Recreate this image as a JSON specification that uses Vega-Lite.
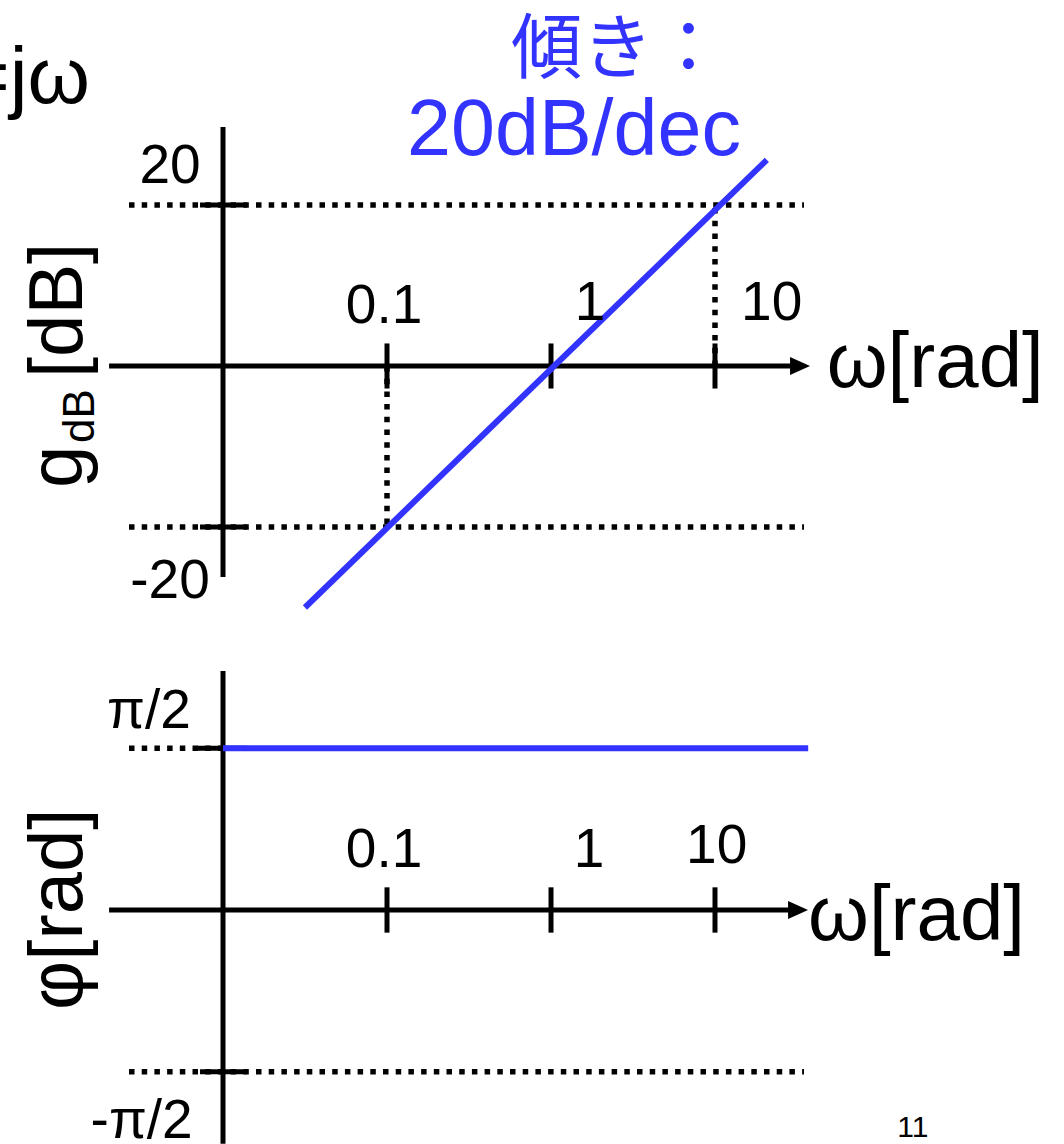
{
  "$schema": "https://vega.github.io/schema/vega-lite/v6.json",
  "width": 1064,
  "height": 1144,
  "autosize": {"type": "fit", "contains": "padding"},
  "padding": 0,
  "background": "white",
  "config": {"view": {"stroke": null}, "text": {"font": "Liberation Sans"}},
  "datasets": {
    "mag_solid": [
      {"w": 0.00202, "w2": 30.7, "g": 0, "g2": 0},
      {"w": 0.01, "w2": 0.01, "g": -26.2, "g2": 29.7},
      {"w": 0.1, "w2": 0.1, "g": -2.8, "g2": 2.8},
      {"w": 1, "w2": 1, "g": -2.8, "g2": 2.8},
      {"w": 10, "w2": 10, "g": -2.8, "g2": 2.8},
      {"w": 0.00724, "w2": 0.01401, "g": 20, "g2": 20},
      {"w": 0.00724, "w2": 0.01401, "g": -20, "g2": -20}
    ],
    "mag_dotted": [
      {"w": 0.002672, "w2": 34.88, "g": 20, "g2": 20},
      {"w": 0.002672, "w2": 34.88, "g": -20, "g2": -20},
      {"w": 0.1, "w2": 0.1, "g": 0, "g2": -20},
      {"w": 10, "w2": 10, "g": 0, "g2": 20}
    ],
    "mag_curve": [
      {"w": 0.0316, "g": -30},
      {"w": 20.7, "g": 25.6}
    ],
    "mag_arrow": [{"w": 33, "g": 0}],
    "mag_ticklabels": [
      {"w": 0.00475, "g": 22.73, "label": "20"},
      {"w": 0.00475, "g": -28.82, "label": "-20"},
      {"w": 0.0959, "g": 5.38, "label": "0.1"},
      {"w": 1.729, "g": 5.71, "label": "1"},
      {"w": 22.17, "g": 5.71, "label": "10"}
    ],
    "mag_axislabel": [{"w": 48.0, "g": -2.57, "label": "ω[rad]"}],
    "mag_slope": [{"w": 1.381, "g": 26.21, "label": "20dB/dec"}],
    "mag_slope_jp": [{"w": 0.5705, "g": 36.5, "label": "傾き："}],
    "mag_corner": [{"w": 0.001545, "g": 32.67, "label": "=jω"}],
    "mag_ylabel_main": [
      {"w": 0.00138, "g": -15.16, "label": "g"},
      {"w": 0.00138, "g": -1.49, "label": "[dB]"}
    ],
    "mag_ylabel_sub": [{"w": 0.001634, "g": -9.57, "label": "dB"}],
    "ph_solid": [
      {"w": 0.00202, "w2": 28.7, "p": 0, "p2": 0},
      {"w": 0.01, "w2": 0.01, "p": -2.27, "p2": 2.32},
      {"w": 0.1, "w2": 0.1, "p": -0.22, "p2": 0.22},
      {"w": 1, "w2": 1, "p": -0.22, "p2": 0.22},
      {"w": 10, "w2": 10, "p": -0.22, "p2": 0.22},
      {"w": 0.00694, "w2": 0.01401, "p": 1.5708, "p2": 1.5708},
      {"w": 0.00724, "w2": 0.01401, "p": -1.5708, "p2": -1.5708}
    ],
    "ph_dotted": [
      {"w": 0.002672, "w2": 0.01, "p": 1.5708, "p2": 1.5708},
      {"w": 0.002672, "w2": 34.88, "p": -1.5708, "p2": -1.5708}
    ],
    "ph_curve": [
      {"w": 0.01, "p": 1.5708},
      {"w": 37, "p": 1.5708}
    ],
    "ph_arrow": [{"w": 32.1, "p": 0}],
    "ph_ticklabels": [
      {"w": 0.003538, "p": 1.764, "label": "π/2"},
      {"w": 0.00319, "p": -2.215, "label": "-π/2"},
      {"w": 0.0959, "p": 0.42, "label": "0.1"},
      {"w": 1.705, "p": 0.42, "label": "1"},
      {"w": 10.24, "p": 0.453, "label": "10"}
    ],
    "ph_axislabel": [{"w": 36.9, "p": -0.291, "label": "ω[rad]"}],
    "ph_ylabel": [{"w": 0.00138, "p": -0.971, "label": "φ[rad]"}],
    "page": [{"w": 161, "p": -2.201, "label": "11"}]
  },
  "resolve": {"scale": {"y": "independent"}},
  "layer": [
    {
      "encoding": {
        "x": {"field": "w", "type": "quantitative", "scale": {"type": "log", "domain": [0.0004367, 1343], "nice": false}, "axis": null},
        "y": {"field": "g", "type": "quantitative", "scale": {"domain": [-96.646, 45.466], "nice": false, "zero": false}, "axis": null}
      },
      "layer": [
        {
          "data": {"name": "mag_dotted"},
          "mark": {"type": "rule", "color": "black", "strokeWidth": 5.5, "strokeDash": [5.5, 7.2], "clip": true},
          "encoding": {"x2": {"field": "w2"}, "y2": {"field": "g2"}}
        },
        {
          "data": {"name": "mag_solid"},
          "mark": {"type": "rule", "color": "black", "strokeWidth": 5, "clip": true},
          "encoding": {"x2": {"field": "w2"}, "y2": {"field": "g2"}}
        },
        {
          "data": {"name": "mag_arrow"},
          "mark": {"type": "point", "shape": "M-1,-0.9L1,0L-1,0.9Z", "size": 400, "filled": true, "color": "black", "opacity": 1, "strokeWidth": 0, "clip": true}
        },
        {
          "data": {"name": "mag_curve"},
          "mark": {"type": "line", "color": "#3333ff", "strokeWidth": 6, "strokeCap": "butt", "clip": true}
        },
        {
          "data": {"name": "mag_ticklabels"},
          "mark": {"type": "text", "fontSize": 55, "align": "center", "baseline": "alphabetic", "color": "black", "clip": true},
          "encoding": {"text": {"field": "label"}}
        },
        {
          "data": {"name": "mag_axislabel"},
          "mark": {"type": "text", "fontSize": 78, "align": "left", "baseline": "alphabetic", "color": "black", "clip": true},
          "encoding": {"text": {"field": "label"}}
        },
        {
          "data": {"name": "mag_slope"},
          "mark": {"type": "text", "fontSize": 79, "align": "center", "baseline": "alphabetic", "color": "#3333ff", "clip": true},
          "encoding": {"text": {"field": "label"}}
        },
        {
          "data": {"name": "mag_slope_jp"},
          "mark": {"type": "text", "font": "Noto Sans CJK JP", "fontSize": 71, "align": "left", "baseline": "alphabetic", "color": "#3333ff", "clip": true},
          "encoding": {"text": {"field": "label"}}
        },
        {
          "data": {"name": "mag_corner"},
          "mark": {"type": "text", "fontSize": 80, "align": "right", "baseline": "alphabetic", "color": "black", "clip": true},
          "encoding": {"text": {"field": "label"}}
        },
        {
          "data": {"name": "mag_ylabel_main"},
          "mark": {"type": "text", "fontSize": 76, "angle": 270, "align": "left", "baseline": "alphabetic", "color": "black", "clip": true},
          "encoding": {"text": {"field": "label"}}
        },
        {
          "data": {"name": "mag_ylabel_sub"},
          "mark": {"type": "text", "fontSize": 44, "angle": 270, "align": "left", "baseline": "alphabetic", "color": "black", "clip": true},
          "encoding": {"text": {"field": "label"}}
        }
      ]
    },
    {
      "encoding": {
        "x": {"field": "w", "type": "quantitative", "scale": {"type": "log", "domain": [0.0004367, 1343], "nice": false}, "axis": null},
        "y": {"field": "p", "type": "quantitative", "scale": {"domain": [-2.272, 8.835], "nice": false, "zero": false}, "axis": null}
      },
      "layer": [
        {
          "data": {"name": "ph_dotted"},
          "mark": {"type": "rule", "color": "black", "strokeWidth": 5.5, "strokeDash": [5.5, 7.2], "clip": true},
          "encoding": {"x2": {"field": "w2"}, "y2": {"field": "p2"}}
        },
        {
          "data": {"name": "ph_solid"},
          "mark": {"type": "rule", "color": "black", "strokeWidth": 5, "clip": true},
          "encoding": {"x2": {"field": "w2"}, "y2": {"field": "p2"}}
        },
        {
          "data": {"name": "ph_arrow"},
          "mark": {"type": "point", "shape": "M-1,-0.9L1,0L-1,0.9Z", "size": 400, "filled": true, "color": "black", "opacity": 1, "strokeWidth": 0, "clip": true}
        },
        {
          "data": {"name": "ph_curve"},
          "mark": {"type": "line", "color": "#3333ff", "strokeWidth": 6, "strokeCap": "butt", "clip": true}
        },
        {
          "data": {"name": "ph_ticklabels"},
          "mark": {"type": "text", "fontSize": 55, "align": "center", "baseline": "alphabetic", "color": "black", "clip": true},
          "encoding": {"text": {"field": "label"}}
        },
        {
          "data": {"name": "ph_axislabel"},
          "mark": {"type": "text", "fontSize": 78, "align": "left", "baseline": "alphabetic", "color": "black", "clip": true},
          "encoding": {"text": {"field": "label"}}
        },
        {
          "data": {"name": "ph_ylabel"},
          "mark": {"type": "text", "fontSize": 76, "angle": 270, "align": "left", "baseline": "alphabetic", "color": "black", "clip": true},
          "encoding": {"text": {"field": "label"}}
        },
        {
          "data": {"name": "page"},
          "mark": {"type": "text", "fontSize": 30, "align": "center", "baseline": "alphabetic", "color": "black", "clip": true},
          "encoding": {"text": {"field": "label"}}
        }
      ]
    }
  ]
}
